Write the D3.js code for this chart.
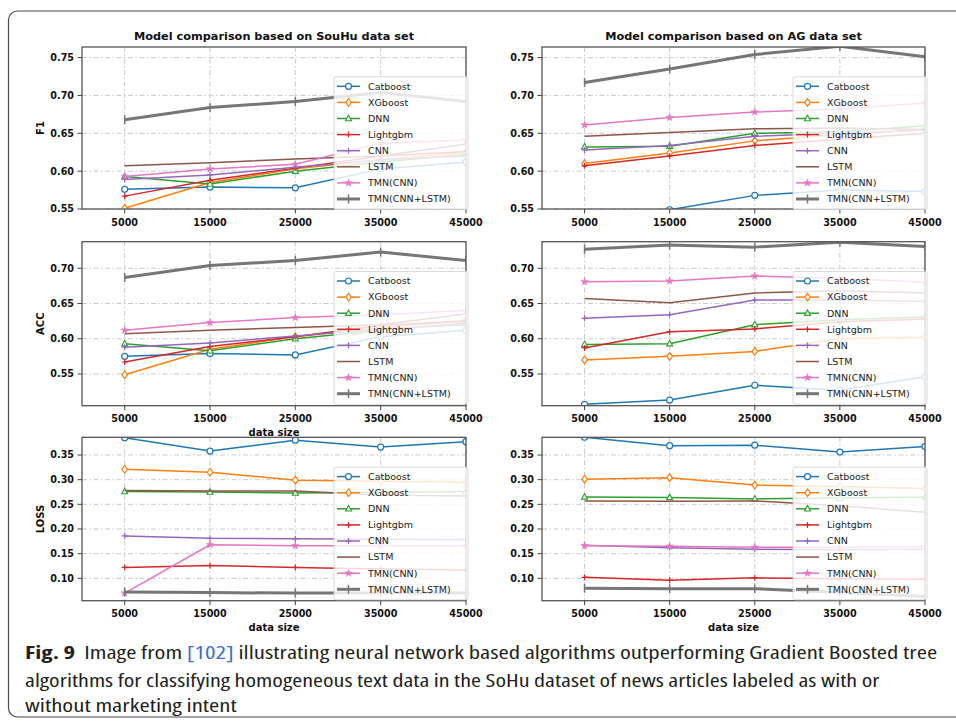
<!DOCTYPE html>
<html><head><meta charset="utf-8">
<script src="https://cdn.jsdelivr.net/npm/d3@7"></script>
<style>body{margin:0;background:#fff} svg{display:block}</style>
</head><body>
<svg id="c" width="956" height="724"></svg>
<script>
const dataSizes = [5000, 15000, 25000, 35000, 45000];
const models = ["Catboost","XGboost","DNN","Lightgbm","CNN","LSTM","TMN(CNN)","TMN(CNN+LSTM)"];
const xTicks = [5000, 15000, 25000, 35000, 45000];
const f1Ticks = [0.55, 0.60, 0.65, 0.70, 0.75];
const accTicks = [0.55, 0.60, 0.65, 0.70];
const lossTicks = [0.10, 0.15, 0.20, 0.25, 0.30, 0.35];
const titles = ["Model comparison based on SouHu data set", "Model comparison based on AG data set"];
const yLabels = ["F1", "ACC", "LOSS"];

// order of rows: Catboost, XGboost, DNN, Lightgbm, CNN, LSTM, TMN(CNN), TMN(CNN+LSTM)
const souhuF1 = [
  [0.576, 0.579, 0.578, 0.603, 0.612],
  [0.551, 0.585, 0.603, 0.615, 0.625],
  [0.593, 0.583, 0.600, 0.612, 0.622],
  [0.567, 0.588, 0.604, 0.620, 0.626],
  [0.589, 0.595, 0.605, 0.615, 0.620],
  [0.607, 0.611, 0.616, 0.620, 0.636],
  [0.593, 0.603, 0.609, 0.637, 0.641],
  [0.668, 0.684, 0.692, 0.704, 0.692]
];
const agF1 = [
  [0.500, 0.549, 0.568, 0.575, 0.573],
  [0.610, 0.624, 0.640, 0.648, 0.655],
  [0.632, 0.633, 0.650, 0.652, 0.660],
  [0.607, 0.620, 0.634, 0.642, 0.650],
  [0.628, 0.634, 0.646, 0.650, 0.654],
  [0.646, 0.651, 0.656, 0.657, 0.655],
  [0.661, 0.671, 0.678, 0.682, 0.690],
  [0.717, 0.735, 0.754, 0.765, 0.751]
];
const souhuAcc = [
  [0.575, 0.579, 0.577, 0.603, 0.612],
  [0.549, 0.585, 0.603, 0.616, 0.626],
  [0.593, 0.583, 0.600, 0.612, 0.622],
  [0.567, 0.589, 0.603, 0.619, 0.625],
  [0.588, 0.594, 0.604, 0.614, 0.620],
  [0.607, 0.612, 0.616, 0.620, 0.635],
  [0.612, 0.623, 0.630, 0.634, 0.640],
  [0.687, 0.704, 0.711, 0.723, 0.711]
];
const agAcc = [
  [0.507, 0.513, 0.534, 0.527, 0.546],
  [0.570, 0.575, 0.582, 0.600, 0.602],
  [0.592, 0.593, 0.620, 0.627, 0.631],
  [0.587, 0.610, 0.614, 0.624, 0.628],
  [0.629, 0.634, 0.655, 0.655, 0.653],
  [0.657, 0.651, 0.665, 0.668, 0.665],
  [0.681, 0.682, 0.689, 0.686, 0.680],
  [0.727, 0.733, 0.730, 0.737, 0.731]
];
const souhuLoss = [
  [0.385, 0.358, 0.380, 0.366, 0.377],
  [0.321, 0.315, 0.299, 0.297, 0.295],
  [0.276, 0.275, 0.273, 0.274, 0.276],
  [0.122, 0.126, 0.122, 0.119, 0.117],
  [0.186, 0.181, 0.180, 0.179, 0.178],
  [0.278, 0.277, 0.277, 0.269, 0.267],
  [0.070, 0.168, 0.166, 0.166, 0.166],
  [0.072, 0.071, 0.070, 0.070, 0.070]
];
const agLoss = [
  [0.386, 0.369, 0.370, 0.356, 0.367],
  [0.301, 0.304, 0.289, 0.286, 0.282],
  [0.265, 0.264, 0.261, 0.263, 0.265],
  [0.102, 0.096, 0.101, 0.099, 0.098],
  [0.167, 0.162, 0.159, 0.158, 0.159],
  [0.257, 0.256, 0.257, 0.247, 0.234],
  [0.166, 0.165, 0.163, 0.163, 0.164],
  [0.080, 0.079, 0.079, 0.071, 0.063]
];

const colors = ["#1f77b4","#ff7f0e","#2ca02c","#d62728","#9467bd","#8c564b","#e377c2","#767676"];
const markerTypes = ["circle","diamond","triangle","plus","plus","none","star","vbar"];
const lineWidths = [1.5,1.5,1.5,1.5,1.5,1.5,1.5,3];

const svg = d3.select("#c");
const FONT = "DejaVu Sans, sans-serif";

// figure border
svg.append("rect").attr("x", 8.5).attr("y", 11).attr("width", 990).attr("height", 706)
  .attr("rx", 9).attr("fill", "none").attr("stroke", "#4a4a4a").attr("stroke-width", 1.2);

const cols = [{x0: 82, x1: 466}, {x0: 542, x1: 925}];
const rows = [
  {y0: 47, y1: 209, domain: [0.55, 0.764], ticks: f1Ticks},
  {y0: 241.7, y1: 405.7, domain: [0.505, 0.7377], ticks: accTicks},
  {y0: 437.3, y1: 600.7, domain: [0.0546, 0.3859], ticks: lossTicks}
];
const panels = [[souhuF1, agF1], [souhuAcc, agAcc], [souhuLoss, agLoss]];

function drawMarker(g, type, x, y, color) {
  if (type === "none") return;
  if (type === "circle") {
    g.append("circle").attr("cx", x).attr("cy", y).attr("r", 3)
      .attr("fill", "#fff").attr("stroke", color).attr("stroke-width", 1.2);
  } else if (type === "diamond") {
    g.append("path").attr("d", `M${x},${y-3.8}L${x+2.8},${y}L${x},${y+3.8}L${x-2.8},${y}Z`)
      .attr("fill", "#fff").attr("stroke", color).attr("stroke-width", 1.2);
  } else if (type === "triangle") {
    g.append("path").attr("d", `M${x},${y-3.3}L${x+3},${y+2.2}L${x-3},${y+2.2}Z`)
      .attr("fill", "#fff").attr("stroke", color).attr("stroke-width", 1.1);
  } else if (type === "plus") {
    g.append("path").attr("d", `M${x-3},${y}H${x+3}M${x},${y-3}V${y+3}`)
      .attr("fill", "none").attr("stroke", color).attr("stroke-width", 1.2);
  } else if (type === "star") {
    g.append("path").attr("d", d3.symbol(d3.symbolStar, 18)())
      .attr("transform", `translate(${x},${y})`).attr("fill", color).attr("stroke", color).attr("stroke-width", 0.5);
  } else if (type === "vbar") {
    g.append("path").attr("d", `M${x},${y-4.5}V${y+4.5}`)
      .attr("fill", "none").attr("stroke", color).attr("stroke-width", 1.5);
  }
}

rows.forEach((row, ri) => {
  cols.forEach((col, ci) => {
    const data = panels[ri][ci];
    const x = d3.scaleLinear().domain([0, 45000]).range([col.x0, col.x1]);
    const y = d3.scaleLinear().domain(row.domain).range([row.y1, row.y0]);
    const g = svg.append("g");
    const cid = `clip${ri}${ci}`;
    svg.append("clipPath").attr("id", cid).append("rect")
      .attr("x", col.x0).attr("y", row.y0).attr("width", col.x1 - col.x0).attr("height", row.y1 - row.y0);

    // grid
    const grid = g.append("g").attr("stroke", "#c4c4c4").attr("stroke-width", 0.9)
      .attr("stroke-dasharray", "5,2.5,1.5,2.5");
    xTicks.forEach(t => grid.append("line").attr("x1", x(t)).attr("x2", x(t)).attr("y1", row.y0).attr("y2", row.y1));
    row.ticks.forEach(t => grid.append("line").attr("x1", col.x0).attr("x2", col.x1).attr("y1", y(t)).attr("y2", y(t)));

    // series
    const plot = g.append("g").attr("clip-path", `url(#${cid})`);
    const line = d3.line().x((d, i) => x(dataSizes[i])).y(d => y(d));
    data.forEach((vals, si) => {
      plot.append("path").attr("d", line(vals)).attr("fill", "none")
        .attr("stroke", colors[si]).attr("stroke-width", lineWidths[si]).attr("stroke-linejoin", "round");
      vals.forEach((v, i) => drawMarker(plot, markerTypes[si], x(dataSizes[i]), y(v), colors[si]));
    });

    // frame
    g.append("rect").attr("x", col.x0).attr("y", row.y0).attr("width", col.x1 - col.x0).attr("height", row.y1 - row.y0)
      .attr("fill", "none").attr("stroke", "#555").attr("stroke-width", 1.3);

    // ticks
    const tk = g.append("g").attr("stroke", "#444").attr("stroke-width", 1);
    row.ticks.forEach(t => tk.append("line").attr("x1", col.x0 - 4.5).attr("x2", col.x0).attr("y1", y(t)).attr("y2", y(t)));
    xTicks.forEach(t => tk.append("line").attr("x1", x(t)).attr("x2", x(t)).attr("y1", row.y1).attr("y2", row.y1 + 4.5));
    row.ticks.forEach(t => g.append("text").attr("x", col.x0 - 8).attr("y", y(t)).attr("dy", "0.35em")
      .attr("text-anchor", "end").attr("font-family", FONT).attr("font-weight", "bold").attr("font-size", 9.6)
      .attr("fill", "#111").text(d3.format(".2f")(t)));
    xTicks.forEach(t => g.append("text").attr("x", x(t)).attr("y", row.y1 + 16.5)
      .attr("text-anchor", "middle").attr("font-family", FONT).attr("font-weight", "bold").attr("font-size", 9.6)
      .attr("fill", "#111").text(t));

    if ((ri === 1 && ci === 0) || ri === 2) {
      g.append("text").attr("x", (col.x0 + col.x1) / 2).attr("y", row.y1 + 30.5).attr("text-anchor", "middle")
        .attr("font-family", FONT).attr("font-weight", "bold").attr("font-size", 10).attr("fill", "#111").text("data size");
    }
    if (ci === 0) {
      g.append("text").attr("transform", `translate(40,${(row.y0 + row.y1) / 2}) rotate(-90)`)
        .attr("dy", "0.35em").attr("text-anchor", "middle").attr("font-family", FONT).attr("font-weight", "bold")
        .attr("font-size", 10).attr("fill", "#111").text(yLabels[ri]);
    }
    if (ri === 0) {
      g.append("text").attr("x", (col.x0 + col.x1) / 2).attr("y", 39.5).attr("text-anchor", "middle")
        .attr("font-family", FONT).attr("font-weight", "bold").attr("font-size", 11.3).attr("fill", "#111").text(titles[ci]);
    }

    // legend
    const lx = col.x1 - 132, first = row.y0 + 39.3, step = 16.1;
    const lg = g.append("g");
    lg.append("rect").attr("x", lx).attr("y", first - 9.5).attr("width", 134).attr("height", step * 7 + 20)
      .attr("rx", 2).attr("fill", "#fff").attr("fill-opacity", 0.82).attr("stroke", "#d0d0d0").attr("stroke-width", 0.8);
    models.forEach((m, si) => {
      const yy = first + si * step;
      lg.append("line").attr("x1", lx + 3).attr("x2", lx + 26).attr("y1", yy).attr("y2", yy)
        .attr("stroke", colors[si]).attr("stroke-width", lineWidths[si]);
      drawMarker(lg, markerTypes[si], lx + 14.5, yy, colors[si]);
      lg.append("text").attr("x", lx + 34).attr("y", yy).attr("dy", "0.35em")
        .attr("font-family", FONT).attr("font-size", 9.5).attr("fill", "#222").text(m);
    });
  });
});

// caption
const CFONT = "'Open Sans', 'Noto Sans', sans-serif";
const capLines = [
  {y: 659, w: 913},
  {y: 686.5, w: 855, text: "algorithms for classifying homogeneous text data in the SoHu dataset of news articles labeled as with or"},
  {y: 712, w: 212, text: "without marketing intent"}
];
capLines.forEach((cl, i) => {
  const t = svg.append("text").attr("x", 0).attr("y", 0).attr("font-family", CFONT)
    .style("font-stretch", "condensed").attr("font-size", 17.5).attr("fill", "#231f20");
  if (i === 0) {
    t.append("tspan").attr("font-weight", "bold").text("Fig. 9");
    t.append("tspan").text("\u00a0 Image from ");
    t.append("tspan").attr("fill", "#3a6fcf").text("[102]");
    t.append("tspan").text(" illustrating neural network based algorithms outperforming Gradient Boosted tree");
  } else {
    t.text(cl.text);
  }
  const len = t.node().getComputedTextLength();
  t.attr("transform", `translate(25,${cl.y}) scale(${cl.w / len},1)`);
});
</script>
</body></html>
